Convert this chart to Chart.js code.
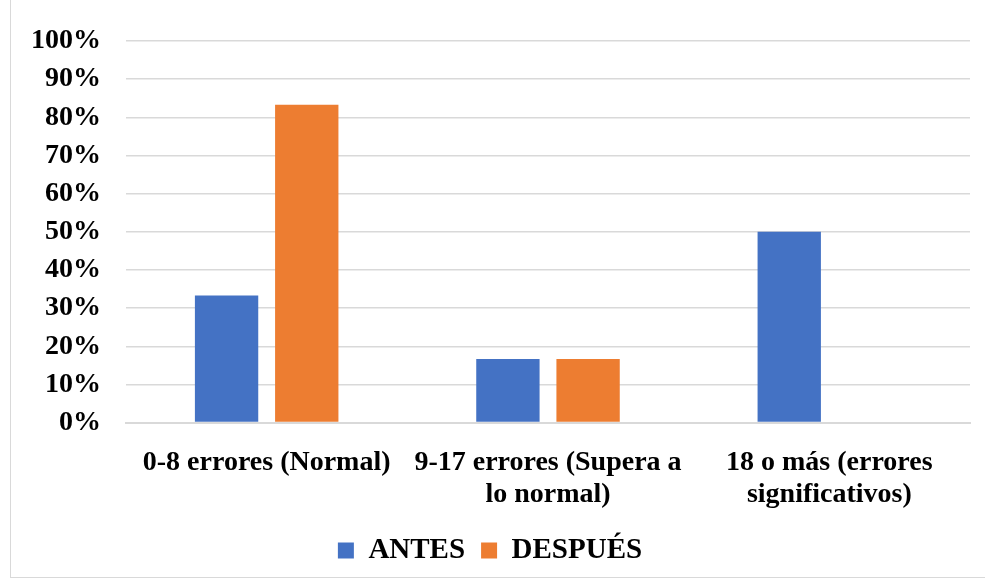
<!DOCTYPE html>
<html lang="es">
<head>
<meta charset="UTF-8">
<title>Errores antes y después</title>
<script src="https://cdn.jsdelivr.net/npm/chart.js"></script>
<style>
  html, body { margin: 0; padding: 0; background: #fff; }
  .frame {
    position: absolute; left: 10px; top: -1px; width: 985px; height: 579px;
    border: 1px solid #d9d9d9; box-sizing: border-box;
  }
  .wrap { position: absolute; left: 0; top: 0; width: 985px; height: 579px; }
</style>
</head>
<body>
<div class="frame"></div>
<div class="wrap"><canvas id="chart"></canvas></div>
<script>
  // datos
  const categorias = [
    '0-8 errores (Normal)',
    ['9-17 errores (Supera a', 'lo normal)'],
    ['18 o más (errores', 'significativos)']
  ];
  const antes = [33.33, 16.67, 50];
  const despues = [83.33, 16.67, 0];

  const fuente = 'Liberation Serif, Times New Roman, serif';

  new Chart(document.getElementById('chart'), {
    type: 'bar',
    data: {
      labels: categorias,
      datasets: [
        { label: 'ANTES', data: antes, backgroundColor: '#4472c4' },
        { label: 'DESPUÉS', data: despues, backgroundColor: '#ed7d31' }
      ]
    },
    options: {
      responsive: true,
      maintainAspectRatio: false,
      animation: false,
      categoryPercentage: 0.57,
      barPercentage: 0.79,
      layout: { padding: { left: 10, right: 15, top: 20, bottom: 4 } },
      plugins: {
        tooltip: { enabled: false },
        legend: {
          position: 'bottom',
          labels: {
            color: '#000',
            boxWidth: 16,
            boxHeight: 16,
            padding: 16,
            font: { family: fuente, size: 29, weight: 'bold' }
          }
        }
      },
      scales: {
        y: {
          min: 0,
          max: 100,
          ticks: {
            stepSize: 10,
            color: '#000',
            padding: 25,
            font: { family: fuente, size: 28, weight: 'bold', lineHeight: 1.15 },
            callback: v => v + '%'
          },
          grid: { color: '#d9d9d9', lineWidth: 1.5, drawTicks: false },
          border: { display: false },
          afterFit: s => { s.width = 116; }
        },
        x: {
          ticks: {
            color: '#000',
            padding: 16,
            maxRotation: 0,
            font: { family: fuente, size: 28, weight: 'bold', lineHeight: 1.15 }
          },
          grid: { display: false },
          border: { color: '#d9d9d9', width: 2 },
          afterFit: s => { s.height -= 7; }
        }
      }
    }
  });
</script>
</body>
</html>
